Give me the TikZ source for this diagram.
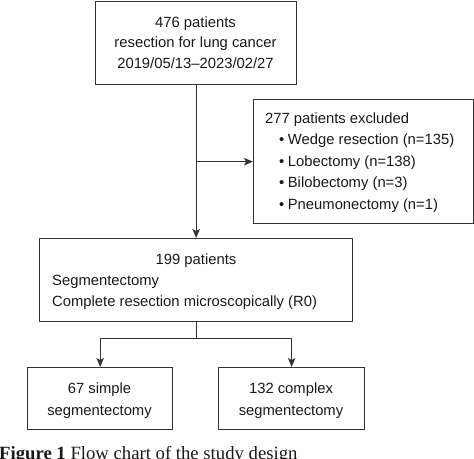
\documentclass[tikz,border=0pt]{standalone}
\usepackage{fontspec}
\setmainfont{Liberation Sans}
\newfontfamily\capfont{Liberation Serif}
\usetikzlibrary{arrows.meta}
\definecolor{linec}{gray}{0.2}
\definecolor{txtc}{gray}{0.1}
\begin{document}
\begin{tikzpicture}[x=1pt,y=-1pt,
 box/.style={draw=linec, line width=1.3pt, rectangle, inner sep=0pt, anchor=north west},
 txt/.style={text=txtc, inner sep=0pt, font=\fontsize{14.8}{20.5}\selectfont},
 arr/.style={draw=linec, line width=1.3pt, -{Stealth[length=9pt,width=7.5pt,inset=2pt]}},
 ln/.style={draw=linec, line width=1.3pt}]
\useasboundingbox (0,0) rectangle (474,458);

\node[box, minimum width=201pt, minimum height=83pt] (top) at (95,1) {};
\node[txt, align=center, anchor=base] (topt) at (195.5,68) {476 patients\\resection for lung cancer\\2019/05/13--2023/02/27};

\node[box, minimum width=220pt, minimum height=124pt] (excl) at (253,99) {};
\node[txt, align=left, anchor=base west, font=\fontsize{14.8}{21.5}\selectfont] (exclt) at (265,209) {277 patients excluded\\
\hspace*{14pt}•\hspace{3.5pt}Wedge resection (n=135)\\
\hspace*{14pt}•\hspace{3.5pt}Lobectomy (n=138)\\
\hspace*{14pt}•\hspace{3.5pt}Bilobectomy (n=3)\\
\hspace*{14pt}•\hspace{3.5pt}Pneumonectomy (n=1)};

\node[box, minimum width=313pt, minimum height=83pt] (mid) at (39,238) {};
\node[txt, anchor=base] (midt) at (196,264) {199 patients};
\node[txt, align=left, anchor=base west, font=\fontsize{14.8}{21}\selectfont] (midl) at (52,306) {Segmentectomy\\Complete resection microscopically (R0)};

\node[box, minimum width=145pt, minimum height=62pt] (bl) at (27,367) {};
\node[txt, align=center, anchor=base, font=\fontsize{14.8}{22}\selectfont] (blt) at (99.5,415) {67 simple\\segmentectomy};
\node[box, minimum width=146pt, minimum height=62pt] (br) at (218,367) {};
\node[txt, align=center, anchor=base, font=\fontsize{14.8}{22}\selectfont] (brt) at (291,415) {132 complex\\segmentectomy};

\draw[arr] (top.south) -- (mid.north);
\coordinate (j1) at (top.south |- excl.west);
\draw[arr] (j1) -- (excl.west);
\draw[ln] (mid.south) -- ++(0,16) coordinate (j2);
\draw[arr] (j2) -| (bl.north);
\draw[arr] (j2) -| (br.north);

\node[anchor=base west, inner sep=0pt, text=txtc, font=\capfont\fontsize{18.7}{20}\selectfont] (cap) at (-1,459.5) {\textbf{Figure 1} Flow chart of the study design};
\end{tikzpicture}
\end{document}
